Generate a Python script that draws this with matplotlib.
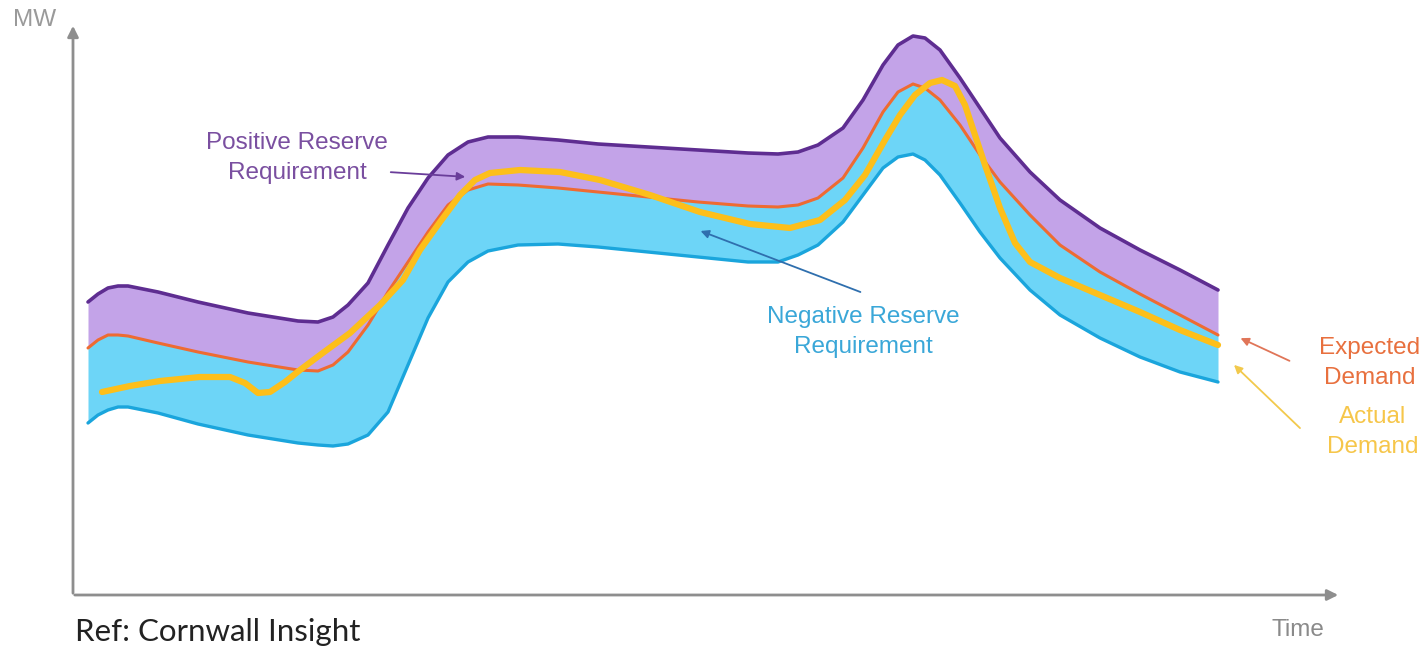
import numpy as np
import matplotlib.pyplot as plt

# time axis (arbitrary units) shared by the reserve band curves
time = [15, 25, 35, 45, 55, 85, 125, 175, 225, 245, 260, 275, 295, 315, 335,
        355, 375, 395, 415, 445, 485, 525, 575, 625, 675, 705, 725, 745, 770,
        790, 810, 825, 840, 852, 867, 887, 907, 927, 957, 987, 1027, 1067,
        1107, 1145]

# MW values
upper_reserve = [293, 301, 307, 309, 309, 303, 293, 282, 274, 273, 278, 290,
                 312, 350, 387, 417, 440, 453, 458, 458, 455, 451, 448, 445,
                 442, 441, 443, 450, 467, 495, 530, 550, 559, 557, 545, 517,
                 487, 457, 423, 395, 367, 345, 325, 305]
expected_demand = [247, 255, 260, 260, 259, 252, 243, 233, 225, 224, 230, 243,
                   270, 303, 333, 363, 390, 405, 411, 410, 407, 403, 398, 393,
                   389, 388, 390, 397, 417, 447, 483, 503, 511, 507, 495, 470,
                   440, 413, 380, 350, 323, 301, 280, 260]
lower_reserve = [172, 180, 185, 188, 188, 182, 171, 160, 152, 150, 149, 151,
                 160, 183, 230, 277, 313, 333, 344, 350, 351, 348, 343, 338,
                 333, 333, 340, 350, 373, 400, 427, 438, 441, 435, 420, 392,
                 363, 337, 305, 280, 257, 238, 223, 213]

actual_time = [29, 57, 87, 127, 157, 172, 185, 197, 212, 227, 247, 277, 307,
               330, 347, 367, 387, 402, 417, 447, 487, 527, 577, 627, 677, 717,
               747, 772, 792, 812, 827, 842, 857, 869, 882, 892, 902, 912, 919,
               927, 942, 957, 987, 1027, 1067, 1107, 1145]
actual_demand = [203, 209, 214, 218, 218, 212, 202, 203, 213, 225, 240, 262,
                 290, 315, 345, 373, 400, 415, 422, 425, 423, 415, 400, 383,
                 371, 367, 375, 395, 420, 455, 480, 500, 512, 515, 509, 490,
                 460, 430, 410, 387, 352, 333, 317, 300, 283, 265, 250]

purple_line = '#5e2d91'
purple_fill = '#c3a3e8'
orange_line = '#ee6b32'
blue_line = '#1aa5dc'
blue_fill = '#6dd5f7'
yellow_line = '#fdbf1a'
axis_grey = '#8e8e8e'

fig = plt.figure(figsize=(14.27, 6.47), dpi=100)
ax = fig.add_axes([0, 0, 1, 1])
ax.set_xlim(-73, 1354)
ax.set_ylim(-52, 595)
ax.axis('off')

ax.fill_between(time, expected_demand, upper_reserve, color=purple_fill, lw=0)
ax.fill_between(time, lower_reserve, expected_demand, color=blue_fill, lw=0)

ax.plot(time, upper_reserve, color=purple_line, lw=2.6,
        solid_capstyle='round', solid_joinstyle='round')
ax.plot(time, lower_reserve, color=blue_line, lw=2.4,
        solid_capstyle='round', solid_joinstyle='round')
ax.plot(time, expected_demand, color=orange_line, lw=2.2,
        solid_capstyle='round', solid_joinstyle='round')
ax.plot(actual_time, actual_demand, color=yellow_line, lw=4.5,
        solid_capstyle='round', solid_joinstyle='round')

# axes with arrow heads
ax.annotate('', xy=(0, 572), xytext=(0, -1),
            arrowprops=dict(arrowstyle='-|>', color=axis_grey, lw=2, mutation_scale=16))
ax.annotate('', xy=(1268, 0), xytext=(-1, 0),
            arrowprops=dict(arrowstyle='-|>', color=axis_grey, lw=2, mutation_scale=16))

lab = dict(family='Liberation Sans', fontsize=17.5, linespacing=1.45)
ax.text(-38, 575, 'MW', color='#9a9a9a', ha='center', va='center', **lab)
ax.text(1225, -35, 'Time', color='#8a8a8a', ha='center', va='center', **lab)
ax.text(2, -37, 'Ref: Cornwall Insight', color='#222222', ha='left', va='center',
        family='Lato', fontsize=22.5)

ax.text(224, 437, 'Positive Reserve\nRequirement', color='#7a4fa0', ha='center',
        va='center', **lab)
ax.annotate('', xy=(395, 418), xytext=(315, 423),
            arrowprops=dict(arrowstyle='-|>', color='#6a3d9a', lw=1.3, mutation_scale=12))

ax.text(790, 263, 'Negative Reserve\nRequirement', color='#3aa7d8', ha='center',
        va='center', **lab)
ax.annotate('', xy=(625, 365), xytext=(790, 302),
            arrowprops=dict(arrowstyle='-|>', color='#2f6fae', lw=1.3, mutation_scale=12))

ax.text(1297, 232, 'Expected\nDemand', color='#e8703e', ha='center', va='center', **lab)
ax.annotate('', xy=(1165, 258), xytext=(1219, 233),
            arrowprops=dict(arrowstyle='-|>', color='#e07558', lw=1.3, mutation_scale=12))

ax.text(1300, 163, 'Actual\nDemand', color='#f6c64a', ha='center', va='center', **lab)
ax.annotate('', xy=(1159, 232), xytext=(1229, 165),
            arrowprops=dict(arrowstyle='-|>', color='#f2c94c', lw=1.3, mutation_scale=12))

plt.savefig('out.png', dpi=100)
plt.close()
